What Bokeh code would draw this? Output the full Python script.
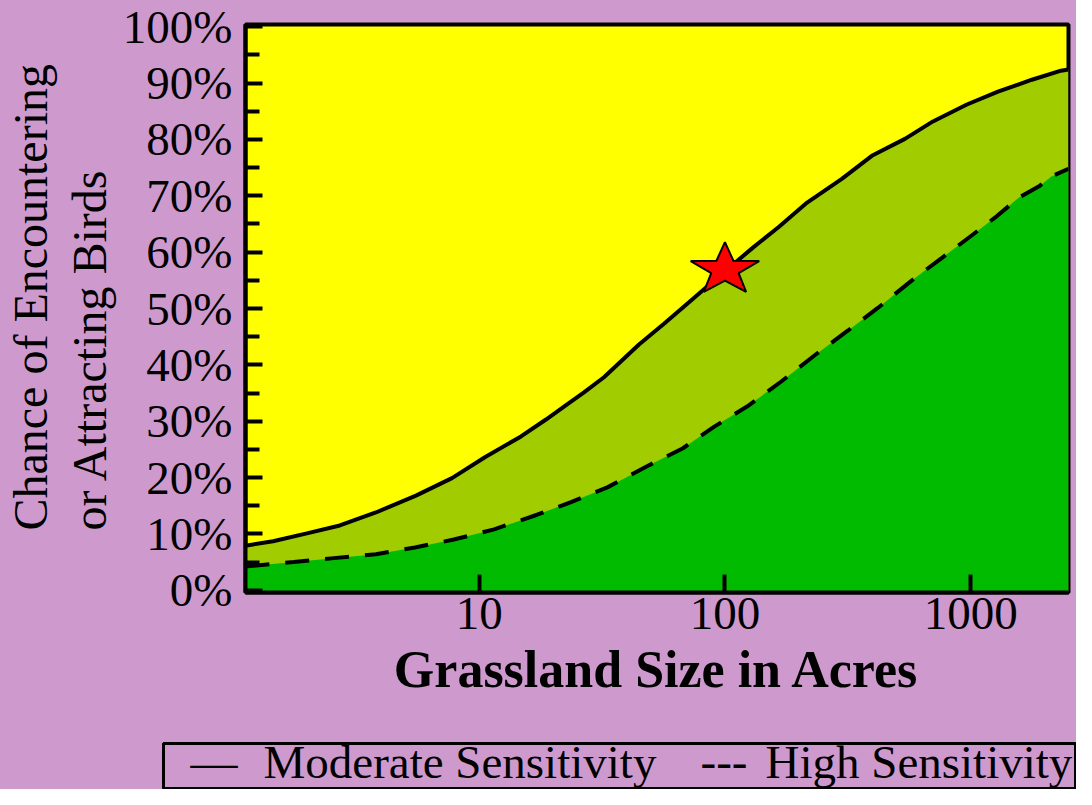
import math
from bokeh.plotting import figure
from bokeh.layouts import column
from bokeh.models import (Range1d, FixedTicker, PrintfTickFormatter,
                          NumeralTickFormatter, Label, Title)
from bokeh.embed import file_html
from bokeh.resources import INLINE

# ---------------- data ----------------
MOD_ACRES = [1.12, 1.45, 1.99, 2.71, 3.8, 5.53, 7.75, 10.55, 14.8, 18.7, 22.8,
             26.7, 32.2, 44.7, 56.5, 71.4, 100, 130, 166, 216, 299, 396, 540,
             702, 965, 1291, 1775, 2330, 2500]
MOD_PCT = [7.9, 8.7, 10.1, 11.5, 13.8, 16.8, 19.9, 23.6, 27.3, 30.3, 33.0,
           35.1, 37.8, 43.6, 47.3, 51.1, 56.6, 60.8, 64.5, 68.8, 73.0, 77.1,
           80.1, 83.2, 86.2, 88.5, 90.6, 92.2, 92.4]

HIGH_ACRES = [1.12, 1.76, 2.56, 3.8, 5.48, 7.89, 11.5, 17.2, 23.8, 33.4, 48.2,
              67.5, 90.2, 123, 169, 232, 317, 419, 577, 764, 1012, 1279, 1572,
              1913, 2121, 2500]
HIGH_PCT = [4.2, 5.0, 5.7, 6.4, 7.6, 9.0, 10.8, 13.4, 15.7, 18.3, 22.0, 25.2,
            29.0, 32.6, 37.0, 41.7, 46.1, 50.1, 55.0, 59.0, 63.0, 66.4, 69.7,
            71.8, 73.4, 74.8]

STAR_ACRES = 100
STAR_PCT = 56.9

Y_TICKS = [0, 10, 20, 30, 40, 50, 60, 70, 80, 90, 100]
Y_MINOR = [5, 15, 25, 35, 45, 55, 65, 75, 85, 95]
X_TICKS = [10, 100, 1000]

SERIES_LABELS = ["Moderate Sensitivity", "High Sensitivity"]
SERIES_MARKS = ["\u2014", "---"]
Y_TITLE = ["Chance of Encountering", "or Attracting Birds"]
X_TITLE = "Grassland Size in Acres"

# ---------------- styling ----------------
BG = "#CE9ACE"
YELLOW = "#FFFF00"
LIGHT = "#A0CC00"
DARK = "#00BB00"
FONT = "Liberation Serif"

X_START, X_END = 1.12, 2500
Y_START, Y_END = -0.4, 100.4
W = 1076
H_MAIN, H_LEG = 741, 48
ML, MR, MT, MB = 245, 8, 24, 149
FRAME_W = W - ML - MR
FRAME_H = H_MAIN - MT - MB

p = figure(width=W, height=H_MAIN, x_axis_type="log",
           x_range=Range1d(X_START, X_END), y_range=Range1d(Y_START, Y_END),
           output_backend="svg", toolbar_location=None,
           min_border_left=ML, min_border_right=MR,
           min_border_top=MT, min_border_bottom=MB)
p.frame_align = False
p.background_fill_color = YELLOW
p.border_fill_color = BG
p.outline_line_color = "black"
p.outline_line_width = 4
p.grid.visible = False

# regions
p.varea(x=MOD_ACRES, y1=Y_START, y2=MOD_PCT, fill_color=LIGHT)
p.varea(x=HIGH_ACRES, y1=Y_START, y2=HIGH_PCT, fill_color=DARK)

# curves
p.line(MOD_ACRES, MOD_PCT, line_color="black", line_width=4)
p.line(HIGH_ACRES, HIGH_PCT, line_color="black", line_width=4,
       line_dash="24 16")

# star marker (slightly squashed, as in the reference)
px_per_dec = FRAME_W / (math.log10(X_END) - math.log10(X_START))
px_per_pct = FRAME_H / (Y_END - Y_START)
RX, RY, INNER = 36.0, 27.5, 0.40
sx, sy = [], []
for k in range(10):
    a = math.pi / 2 + k * math.pi / 5
    r = 1.0 if k % 2 == 0 else INNER
    sx.append(STAR_ACRES * 10 ** (RX * r * math.cos(a) / px_per_dec))
    sy.append(STAR_PCT + RY * r * math.sin(a) / px_per_pct)
p.patch(sx, sy, fill_color="#FF0000", line_color="black", line_width=2)

# axes
for ax in (p.xaxis[0], p.yaxis[0]):
    ax.axis_line_width = 4
    ax.axis_line_color = "black"
    ax.major_tick_line_width = 4
    ax.major_tick_line_color = "black"
    ax.major_tick_out = 0
    ax.major_label_text_font = FONT
    ax.major_label_text_font_size = "47px"
    ax.major_label_text_color = "black"

p.yaxis.ticker = FixedTicker(ticks=Y_TICKS, minor_ticks=Y_MINOR)
p.yaxis.formatter = PrintfTickFormatter(format="%d%%")
p.yaxis.major_tick_in = 17
p.yaxis.minor_tick_in = 14
p.yaxis.minor_tick_out = 0
p.yaxis.minor_tick_line_width = 4
p.yaxis.minor_tick_line_color = "black"
p.yaxis.major_label_standoff = 13

p.xaxis.ticker = FixedTicker(ticks=X_TICKS, minor_ticks=[])
p.xaxis.formatter = NumeralTickFormatter(format="0")
p.xaxis.major_tick_in = 18
p.xaxis.minor_tick_line_color = None
p.xaxis.major_label_standoff = 5
p.xaxis.axis_label = X_TITLE
p.xaxis.axis_label_text_font = FONT
p.xaxis.axis_label_text_font_style = "bold"
p.xaxis.axis_label_text_font_size = "52px"
p.xaxis.axis_label_text_color = "black"
p.xaxis.axis_label_standoff = 9

# y-axis title: two left-aligned vertical lines (inner line added first)
for txt, so in ((Y_TITLE[1], 8), (Y_TITLE[0], 0)):
    p.add_layout(Title(text=txt, align="left", offset=62, standoff=so,
                       text_font=FONT, text_font_size="48px",
                       text_font_style="normal", text_color="black"), "left")

# legend strip: a boxed, text-style legend below the chart
leg = figure(width=W, height=H_LEG, x_range=Range1d(0, 1),
             y_range=Range1d(0, 1), output_backend="svg",
             toolbar_location=None, x_axis_location=None,
             y_axis_location=None, min_border_left=163, min_border_right=0,
             min_border_top=2, min_border_bottom=0)
leg.frame_align = False
leg.grid.visible = False
leg.background_fill_color = BG
leg.border_fill_color = BG
leg.outline_line_color = "black"
leg.outline_line_width = 3
legend_parts = [(SERIES_MARKS[0], 27), (SERIES_LABELS[0], 100),
                (SERIES_MARKS[1], 537), (SERIES_LABELS[1], 602)]
for txt, xs in legend_parts:
    # anchored to the top edge of the legend box
    leg.add_layout(Label(x=xs, y=1.0, x_units="screen", y_units="data",
                         y_offset=-18, text=txt, text_align="left",
                         text_baseline="middle", text_font=FONT,
                         text_font_size="47px", text_color="black"))

layout = column(p, leg, spacing=0, styles={"background-color": BG})
html = file_html(layout, INLINE)
html = html.replace("<body>", '<body style="background-color:%s;">' % BG, 1)
open("out.html", "w").write(html)
